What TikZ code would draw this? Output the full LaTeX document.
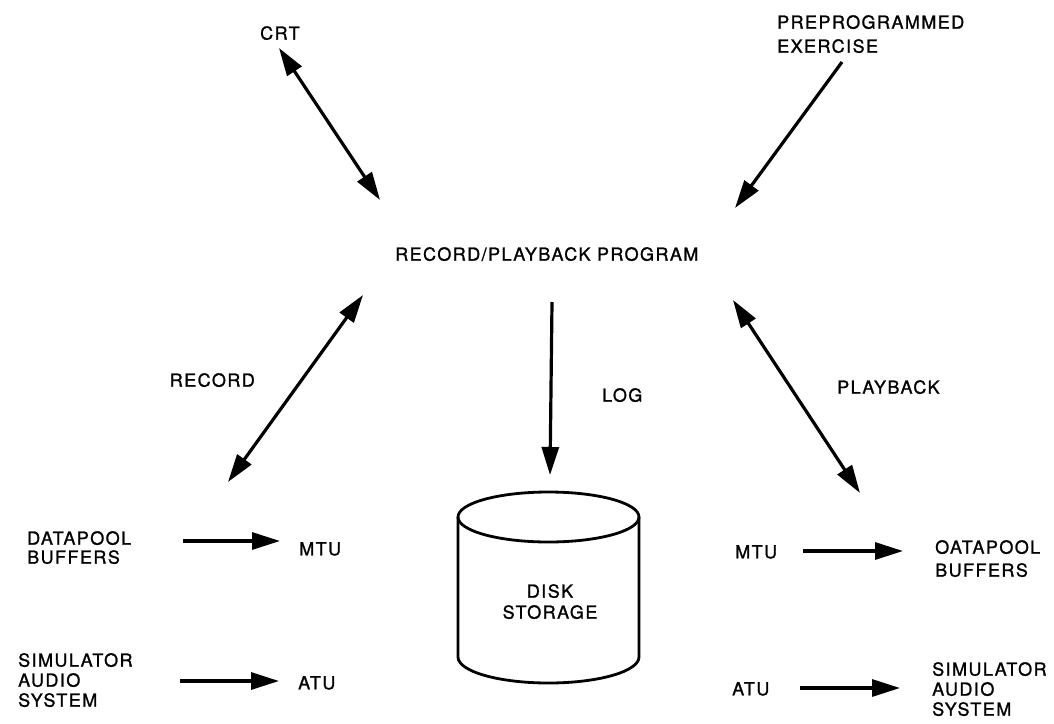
\documentclass[tikz,border=0pt]{standalone}
\usepackage{fontspec}
\setmainfont{TeX Gyre Heros}[LetterSpace=8,FakeBold=1.2]
\usetikzlibrary{arrows.meta}
\begin{document}
\begin{tikzpicture}[x=1pt,y=-1pt,
  lbl/.style={inner sep=0pt, anchor=north west, align=left, font=\fontsize{18}{20}\selectfont},
  tipx/.tip={Triangle[length=28pt,width=17pt]},
  conn/.style={line width=3.2pt, -tipx},
  biconn/.style={line width=3.2pt, tipx-tipx},
  outline/.style={line width=2.8pt}]
\useasboundingbox[fill=white] (0,0) rectangle (1054,723);

% labels
\node[lbl] (crt) at (260,26) {CRT};
\node[lbl, font=\fontsize{18}{24}\selectfont] (pre) at (777,15) {PREPROGRAMMED\\EXERCISE};
\node[lbl] (prog) at (395,247) {RECORD/PLAYBACK PROGRAM};
\node[lbl, anchor=north east] (rec) at (255,373) {RECORD};
\node[lbl] (log) at (602,388) {LOG};
\node[lbl] (play) at (837,380) {PLAYBACK};
\node[lbl, font=\fontsize{18}{19}\selectfont] (dpl) at (27,531) {DATAPOOL\\BUFFERS};
\node[lbl] (mtul) at (299,542) {MTU};
\node[lbl] (siml) at (18,653) {SIMULATOR\\AUDIO\\SYSTEM};
\node[lbl] (atul) at (298,676) {ATU};
\node[lbl] (mtur) at (735,545) {MTU};
\node[lbl, font=\fontsize{18}{23}\selectfont] (dpr) at (935,540) {OATAPOOL\\BUFFERS};
\node[lbl] (atur) at (732,682) {ATU};
\node[lbl] (simr) at (932,662) {SIMULATOR\\AUDIO\\SYSTEM};

% disk storage cylinder
\draw[outline] (548.5,517) ellipse [x radius=90.5, y radius=25];
\draw[outline] (458,517) -- (458,657) arc[start angle=180, end angle=0, x radius=90.5, y radius=26] -- (639,517);
\node[lbl, anchor=north, align=center, font=\fontsize{18}{21}\selectfont] (disk) at (550,584) {DISK\\STORAGE};

% connector end points
\coordinate (crtA) at (279,48);   \coordinate (crtB) at (380,200);
\coordinate (preA) at (842,62);   \coordinate (preB) at (735,208);
\coordinate (recA) at (363,295);  \coordinate (recB) at (228,482);
\coordinate (logA) at (552,302);  \coordinate (logB) at (550,475);
\coordinate (plA)  at (733,300);  \coordinate (plB)  at (860,493);
\coordinate (d1A) at (183,541);   \coordinate (d1B) at (280,541);
\coordinate (s1A) at (180,681);   \coordinate (s1B) at (279,681);
\coordinate (m2A) at (803,551);   \coordinate (m2B) at (903,551);
\coordinate (a2A) at (800,688);   \coordinate (a2B) at (900,688);

\draw[biconn] (crtA) -- (crtB);
\draw[conn] (preA) -- (preB);
\draw[biconn] (recA) -- (recB);
\draw[conn] (logA) -- (logB);
\draw[biconn] (plA) -- (plB);
\draw[conn] (d1A) -- (d1B);
\draw[conn] (s1A) -- (s1B);
\draw[conn] (m2A) -- (m2B);
\draw[conn] (a2A) -- (a2B);
\end{tikzpicture}
\end{document}
